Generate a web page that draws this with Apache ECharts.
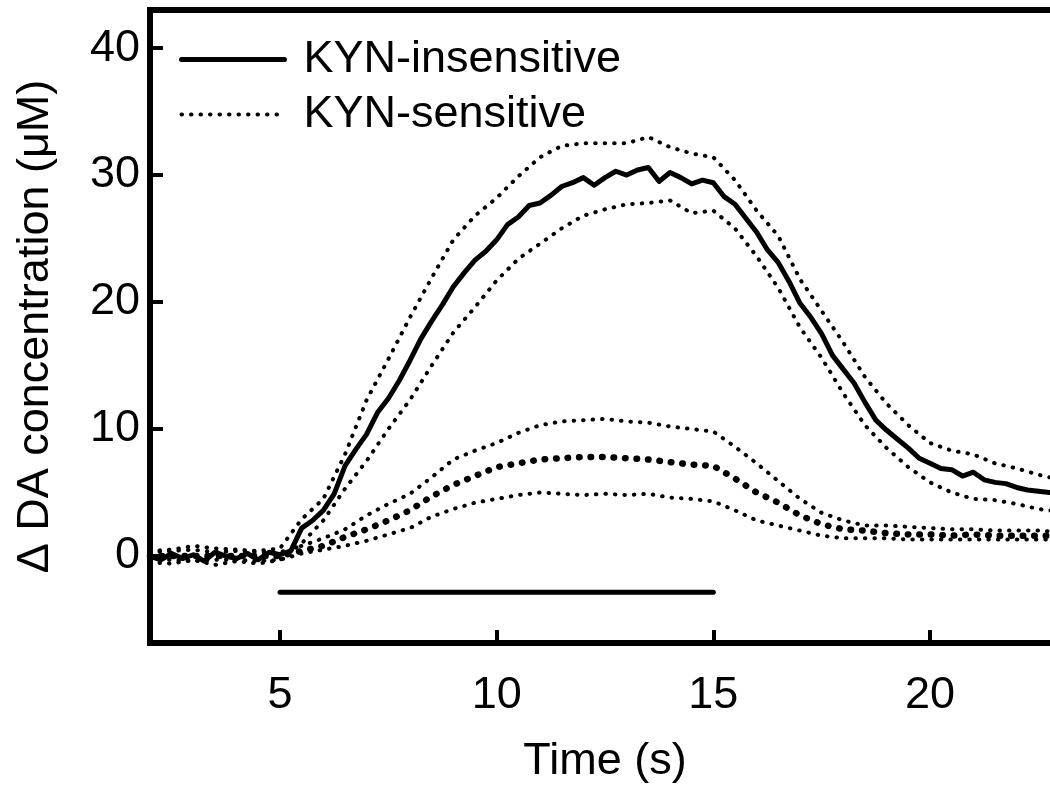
<!DOCTYPE html>
<html>
<head>
<meta charset="utf-8">
<script src="https://cdn.jsdelivr.net/npm/echarts@6/dist/echarts.min.js"></script>
<style>
html,body{margin:0;padding:0;background:#fff;}
#chart{width:1050px;height:793px;}
</style>
</head>
<body>
<div id="chart"></div>
<script>
// ---- data ----
const timeFine = [2,2.25,2.5,2.75,3,3.25,3.5,3.75,4,4.25,4.5,4.75,5,5.25,5.5,5.75,6,6.25,6.5,6.75,7,7.25,7.5,7.75,8,8.25,8.5,8.75,9,9.25,9.5,9.75,10,10.25,10.5,10.75,11,11.25,11.5,11.75,12,12.25,12.5,12.75,13,13.25,13.5,13.75,14,14.25,14.5,14.75,15,15.25,15.5,15.75,16,16.25,16.5,16.75,17,17.25,17.5,17.75,18,18.25,18.5,18.75,19,19.25,19.5,19.75,20,20.25,20.5,20.75,21,21.25,21.5,21.75,22,22.25,22.5,22.75,23];
const insensitiveMean = [0.0,-0.3,0.2,-0.2,0.1,-0.4,0.3,0.0,-0.2,0.2,-0.3,0.3,0.1,0.4,2.2,2.8,3.6,4.9,7.1,8.4,9.6,11.3,12.4,13.8,15.4,17.1,18.5,19.8,21.2,22.3,23.3,24.0,24.9,26.1,26.7,27.6,27.8,28.4,29.1,29.4,29.8,29.2,29.8,30.3,30.0,30.4,30.6,29.5,30.2,29.8,29.3,29.6,29.4,28.3,27.7,26.6,25.5,24.1,23.1,21.6,19.9,18.8,17.5,15.8,14.7,13.6,12.1,10.7,9.9,9.2,8.5,7.7,7.3,6.9,6.8,6.3,6.6,6.0,5.8,5.7,5.4,5.2,5.1,5.0,5.0];

const timeCoarse = [2,2.5,3,3.5,4,4.5,5,5.5,6,6.5,7,7.5,8,8.5,9,9.5,10,10.5,11,11.5,12,12.5,13,13.5,14,14.5,15,15.5,16,16.5,17,17.5,18,18.5,19,19.5,20,20.5,21,21.5,22,22.5,23];
const insensitiveUpper = [0.4,0.5,0.8,0.6,0.5,0.4,0.6,2.9,4.5,8.0,12.3,15.5,18.8,21.9,24.9,26.8,28.2,29.9,31.4,32.3,32.5,32.5,32.5,33.0,32.2,31.7,31.4,29.6,27.2,25.2,21.8,19.3,16.8,14.1,12.0,10.3,8.9,8.3,8.0,7.3,6.9,6.4,6.0];
const insensitiveLower = [-0.5,-0.6,-0.3,-0.7,-0.4,-0.6,-0.3,1.0,2.8,5.3,7.5,10.0,12.3,15.0,17.6,19.6,21.7,23.4,24.6,25.8,26.8,27.3,27.7,27.8,28.0,27.0,27.2,25.8,23.6,21.1,18.0,15.6,12.8,10.3,8.5,7.0,5.8,5.0,4.5,4.4,4.1,3.7,3.5];
const sensitiveMean = [0.0,0.0,0.0,0.0,0.0,0.0,0.0,0.4,0.8,1.5,2.1,2.8,3.6,4.7,5.6,6.3,7.0,7.3,7.6,7.7,7.8,7.8,7.7,7.6,7.4,7.2,7.1,6.1,5.0,4.2,3.2,2.5,2.1,2.0,1.8,1.7,1.7,1.6,1.7,1.6,1.6,1.6,1.6];
const sensitiveUpper = [0.3,0.4,0.5,0.3,0.4,0.3,0.3,0.8,1.4,2.1,3.2,4.1,4.9,6.2,7.6,8.3,8.9,9.7,10.3,10.6,10.7,10.8,10.6,10.5,10.2,10.0,9.8,8.6,7.3,5.9,4.5,3.4,2.8,2.4,2.4,2.3,2.2,2.1,2.1,2.0,2.0,2.0,1.9];
const sensitiveLower = [-0.3,-0.3,-0.4,-0.3,-0.3,-0.4,-0.3,0.2,0.5,0.8,1.2,1.7,2.2,3.1,3.7,4.2,4.5,4.8,5.0,4.9,4.8,4.9,4.8,4.9,4.6,4.5,4.3,3.6,2.8,2.4,2.0,1.6,1.4,1.4,1.4,1.3,1.3,1.3,1.3,1.3,1.3,1.3,1.3];

const stimulusTimes = [5, 15];     // stimulation bar start / end (s)
const stimulusLevel = -2.85;       // drawn below baseline (µM)

const xTickValues = [5, 10, 15, 20];
const yTickValues = [0, 10, 20, 30, 40];
const legendNames = ['KYN-insensitive', 'KYN-sensitive'];

// ---- helpers ----
const zip = (xs, ys) => xs.map((x, i) => [x, ys[i]]);
const FONT = '"Liberation Sans", Arial, Helvetica, sans-serif';
const smallDots = { color: '#000', width: 4, type: [0.5, 9], cap: 'round' };
const bigDots = { color: '#000', width: 6.5, type: [0.5, 11], cap: 'round' };
const hiddenSymbol = { color: 'transparent', opacity: 0, borderWidth: 0 };

const chart = echarts.init(document.getElementById('chart'), null, { renderer: 'canvas' });
chart.setOption({
  animation: false,
  backgroundColor: '#fff',
  color: ['#000'],
  textStyle: { fontFamily: FONT, color: '#000' },
  grid: {
    left: 150, top: 10, width: 910, height: 633,
    containLabel: false, outerBoundsMode: 'none',
    show: true, borderColor: '#000', borderWidth: 6, backgroundColor: 'transparent'
  },
  legend: {
    orient: 'vertical',
    left: 174, top: 32,
    itemWidth: 103, itemHeight: 20, itemGap: 10,
    selectedMode: false,
    textStyle: { fontFamily: FONT, fontSize: 45, color: '#000', padding: [0, 0, 0, 14] },
    data: [
      { name: legendNames[0], itemStyle: hiddenSymbol, lineStyle: { color: '#000', width: 5, type: 'solid', cap: 'round' } },
      { name: legendNames[1], itemStyle: hiddenSymbol, lineStyle: smallDots }
    ]
  },
  xAxis: {
    type: 'value', min: 2, max: 23,
    name: 'Time (s)', nameLocation: 'middle', nameGap: 96,
    nameTextStyle: { fontFamily: FONT, fontSize: 45, color: '#000' },
    axisLine: { show: true, onZero: false, lineStyle: { color: '#000', width: 6 } },
    axisTick: { show: true, inside: true, length: 13, customValues: xTickValues, lineStyle: { color: '#000', width: 4 } },
    axisLabel: { customValues: xTickValues, fontFamily: FONT, fontSize: 45, color: '#000', margin: 30 },
    splitLine: { show: false }
  },
  yAxis: {
    type: 'value', min: -6.85, max: 43,
    name: 'Δ DA concentration (μM)', nameLocation: 'middle', nameGap: 92,
    nameTextStyle: { fontFamily: FONT, fontSize: 45, color: '#000' },
    axisLine: { show: true, onZero: false, lineStyle: { color: '#000', width: 6 } },
    axisTick: { show: true, inside: true, length: 13, customValues: yTickValues, lineStyle: { color: '#000', width: 4 } },
    axisLabel: { customValues: yTickValues, fontFamily: FONT, fontSize: 45, color: '#000', margin: 10 },
    splitLine: { show: false }
  },
  series: [
    { name: 'KYN-insensitive upper', type: 'line', symbol: 'none', silent: true, z: 2,
      data: zip(timeCoarse, insensitiveUpper), lineStyle: smallDots },
    { name: 'KYN-insensitive lower', type: 'line', symbol: 'none', silent: true, z: 2,
      data: zip(timeCoarse, insensitiveLower), lineStyle: smallDots },
    { name: 'KYN-sensitive upper', type: 'line', symbol: 'none', silent: true, z: 2,
      data: zip(timeCoarse, sensitiveUpper), lineStyle: smallDots },
    { name: 'KYN-sensitive lower', type: 'line', symbol: 'none', silent: true, z: 2,
      data: zip(timeCoarse, sensitiveLower), lineStyle: smallDots },
    { name: legendNames[1], type: 'line', symbol: 'none', silent: true, z: 3,
      data: zip(timeCoarse, sensitiveMean), lineStyle: bigDots },
    { name: legendNames[0], type: 'line', symbol: 'none', silent: true, z: 4,
      data: zip(timeFine, insensitiveMean),
      lineStyle: { color: '#000', width: 5, join: 'round', cap: 'round' } },
    { name: 'stimulus', type: 'line', symbol: 'none', silent: true, z: 4,
      data: stimulusTimes.map(t => [t, stimulusLevel]),
      lineStyle: { color: '#000', width: 5, cap: 'round' } }
  ]
});
</script>
</body>
</html>
